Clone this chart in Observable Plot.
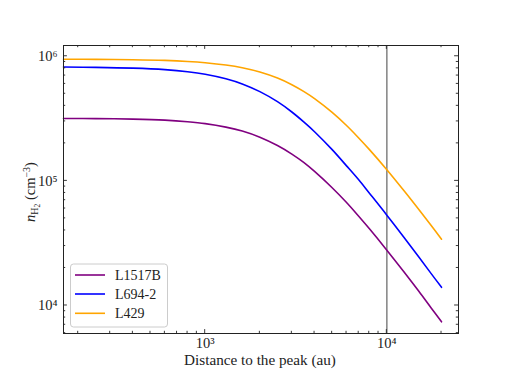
<!DOCTYPE html>
<html><head><meta charset="utf-8">
<script src="https://cdn.jsdelivr.net/npm/d3@7"></script>
<script src="https://cdn.jsdelivr.net/npm/@observablehq/plot@0.6"></script>
<style>body{margin:0;background:#fff}</style>
</head><body><div id="chart"></div>
<script>
// Distance to the peak (au)
const distance = [166, 250, 400, 600, 800, 1000, 1300, 1600, 2000, 2500, 3000, 3500, 4000, 5000, 6000, 7000, 8000, 10000, 12500, 15000, 17500, 20000];
// n_H2 (cm^-3)
const nL1517B = [3.17e5, 3.16e5, 3.13e5, 3.07e5, 2.98e5, 2.88e5, 2.70e5, 2.51e5, 2.24e5, 1.92e5, 1.64e5, 1.40e5, 1.19e5, 8.8e4, 6.7e4, 5.2e4, 4.14e4, 2.78e4, 1.84e4, 1.30e4, 9.6e3, 7.4e3];
const nL694 = [8.19e5, 8.15e5, 8.03e5, 7.81e5, 7.52e5, 7.18e5, 6.60e5, 6.00e5, 5.20e5, 4.32e5, 3.57e5, 2.96e5, 2.48e5, 1.78e5, 1.32e5, 1.02e5, 8.0e4, 5.31e4, 3.48e4, 2.45e4, 1.81e4, 1.40e4];
const nL429 = [9.46e5, 9.44e5, 9.38e5, 9.26e5, 9.09e5, 8.88e5, 8.51e5, 8.09e5, 7.47e5, 6.68e5, 5.91e5, 5.20e5, 4.57e5, 3.54e5, 2.78e5, 2.21e5, 1.79e5, 1.23e5, 8.25e4, 5.89e4, 4.40e4, 3.40e4];
const seriesNames = ["L1517B", "L694-2", "L429"];
const seriesColors = ["#800080", "#0000ff", "#ffa500"];
const xTicks = [1e3, 1e4];
const yTicks = [1e4, 1e5, 1e6];
const xMinor = [200, 300, 400, 500, 600, 700, 800, 900, 2000, 3000, 4000, 5000, 6000, 7000, 8000, 9000, 20000];
const yMinor = [6000, 7000, 8000, 9000, 2e4, 3e4, 4e4, 5e4, 6e4, 7e4, 8e4, 9e4, 2e5, 3e5, 4e5, 5e5, 6e5, 7e5, 8e5, 9e5];
const markerDistance = [1e4];
const xLabel = "Distance to the peak (au)";

const rows = [];
[nL1517B, nL694, nL429].forEach((arr, i) => arr.forEach((v, j) => rows.push({series: seriesNames[i], x: distance[j], n: v})));

const supMap = {"0":"⁰","1":"¹","2":"²","3":"³","4":"⁴","5":"⁵","6":"⁶","7":"⁷","8":"⁸","9":"⁹"};
const fmt = d => "10" + String(Math.round(Math.log10(d))).split("").map(c => supMap[c]).join("");

const W = 509, H = 382, mL = 63, mR = 51, mT = 45, mB = 49;
const FONT = "'Liberation Serif', 'DejaVu Serif', serif";
const FS = 14.5;

const plot = Plot.plot({
  width: W, height: H, marginLeft: mL, marginRight: mR, marginTop: mT, marginBottom: mB,
  style: {fontFamily: FONT, fontSize: FS + "px", background: "white", color: "#222"},
  x: {type: "log", domain: [166, 24800]},
  y: {type: "log", domain: [5960, 1.22e6]},
  color: {domain: seriesNames, range: seriesColors},
  marks: [
    Plot.ruleX(markerDistance, {stroke: "#8a8a8a", strokeWidth: 1.6}),
    Plot.line(rows, {x: "x", y: "n", z: "series", stroke: "series", strokeWidth: 1.6, curve: "catmull-rom"}),
    Plot.frame({stroke: "#222", strokeWidth: 1}),
    Plot.axisX(xTicks, {tickSize: 0, tickPadding: 4, tickFormat: fmt, label: null, fontSize: FS}),
    Plot.axisY(yTicks, {tickSize: 0, tickPadding: 6, tickFormat: fmt, label: null, fontSize: FS})
  ]
});
document.getElementById("chart").appendChild(plot);

const X = plot.scale("x"), Y = plot.scale("y");
const pLeft = mL, pRight = W - mR, pTop = mT, pBottom = H - mB;
const svg = d3.select(plot);
const g = svg.append("g").attr("stroke", "#222").attr("stroke-width", 0.9);
function xt(v, len) {
  const p = X.apply(v);
  g.append("line").attr("x1", p).attr("x2", p).attr("y1", pBottom).attr("y2", pBottom - len);
  g.append("line").attr("x1", p).attr("x2", p).attr("y1", pTop).attr("y2", pTop + len);
}
function yt(v, len) {
  const p = Y.apply(v);
  g.append("line").attr("y1", p).attr("y2", p).attr("x1", pLeft).attr("x2", pLeft + len);
  g.append("line").attr("y1", p).attr("y2", p).attr("x1", pRight).attr("x2", pRight - len);
}
xTicks.forEach(v => xt(v, 3.9));
xMinor.forEach(v => xt(v, 2.2));
yTicks.forEach(v => yt(v, 3.9));
yMinor.forEach(v => yt(v, 2.2));

// x label
svg.append("text").attr("x", 260).attr("y", 365).attr("text-anchor", "middle")
  .attr("font-family", FONT).attr("font-size", 15.2).attr("fill", "#222").text(xLabel);

// y label with sub/superscripts
const t = svg.append("text").attr("transform", `translate(35,192) rotate(-90)`)
  .attr("text-anchor", "middle").attr("font-family", FONT).attr("font-size", FS).attr("fill", "#222");
t.append("tspan").attr("font-style", "italic").text("n");
t.append("tspan").attr("font-size", 10).attr("dy", 3).text("H");
t.append("tspan").attr("font-size", 7.5).attr("dy", 1.5).text("2");
t.append("tspan").attr("dy", -4.5).text("\u00a0(cm");
t.append("tspan").attr("font-size", 10).attr("dy", -5.5).text("\u22123");
t.append("tspan").attr("dy", 5.5).text(")");

// legend
const lg = svg.append("g").attr("font-family", FONT).attr("font-size", 14);
lg.append("rect").attr("x", 70.5).attr("y", 264).attr("width", 97).attr("height", 63).attr("rx", 3)
  .attr("fill", "white").attr("fill-opacity", 0.8).attr("stroke", "#cccccc").attr("stroke-width", 1);
const rowY = [275, 294, 313.3];
seriesNames.forEach((name, i) => {
  lg.append("line").attr("x1", 75).attr("x2", 105).attr("y1", rowY[i]).attr("y2", rowY[i])
    .attr("stroke", seriesColors[i]).attr("stroke-width", 1.6);
  lg.append("text").attr("x", 115).attr("y", rowY[i]).attr("dy", "0.35em").attr("text-anchor", "start")
    .attr("fill", "#222").text(name);
});
</script>
</body></html>
